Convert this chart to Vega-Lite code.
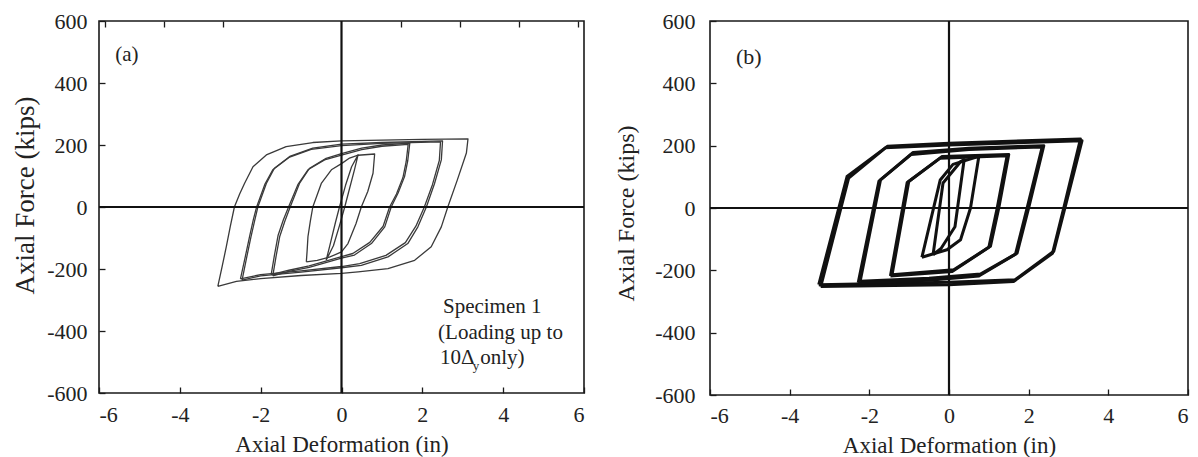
{
  "$schema": "https://vega.github.io/schema/vega-lite/v6.json",
  "autosize": {"type": "pad"},
  "padding": {"left": 10, "top": 9, "right": 5, "bottom": 0},
  "background": "white",
  "bounds": "flush",
  "spacing": 126,
  "config": {
    "font": "Liberation Serif",
    "view": {"stroke": "#1a1a1a", "strokeWidth": 1.6},
    "axis": {
      "grid": false,
      "domain": false,
      "tickColor": "#1a1a1a",
      "tickSize": -6,
      "tickWidth": 1.3,
      "labelFont": "Liberation Serif",
      "labelFontSize": 22,
      "labelColor": "#222222",
      "labelExpr": "toString(datum.value)",
      "titleFont": "Liberation Serif",
      "titleFontWeight": "normal",
      "titleColor": "#222222"
    }
  },
  "datasets": {
    "loopsA": [
      {"loop": "L5", "i": 0, "x": -3.06, "f": -256},
      {"loop": "L5", "i": 1, "x": -2.95, "f": -190},
      {"loop": "L5", "i": 2, "x": -2.85, "f": -128},
      {"loop": "L5", "i": 3, "x": -2.75, "f": -62},
      {"loop": "L5", "i": 4, "x": -2.65, "f": 0},
      {"loop": "L5", "i": 5, "x": -2.52, "f": 42},
      {"loop": "L5", "i": 6, "x": -2.40, "f": 76},
      {"loop": "L5", "i": 7, "x": -2.19, "f": 130},
      {"loop": "L5", "i": 8, "x": -1.86, "f": 168},
      {"loop": "L5", "i": 9, "x": -1.37, "f": 195},
      {"loop": "L5", "i": 10, "x": -0.71, "f": 208},
      {"loop": "L5", "i": 11, "x": 0, "f": 213},
      {"loop": "L5", "i": 12, "x": 1.0, "f": 216},
      {"loop": "L5", "i": 13, "x": 2.0, "f": 218},
      {"loop": "L5", "i": 14, "x": 3.13, "f": 220},
      {"loop": "L5", "i": 15, "x": 3.09, "f": 174},
      {"loop": "L5", "i": 16, "x": 2.86, "f": 85},
      {"loop": "L5", "i": 17, "x": 2.63, "f": 0},
      {"loop": "L5", "i": 18, "x": 2.47, "f": -64},
      {"loop": "L5", "i": 19, "x": 2.22, "f": -128},
      {"loop": "L5", "i": 20, "x": 1.81, "f": -172},
      {"loop": "L5", "i": 21, "x": 1.15, "f": -199},
      {"loop": "L5", "i": 22, "x": 0.41, "f": -209},
      {"loop": "L5", "i": 23, "x": 0, "f": -214},
      {"loop": "L5", "i": 24, "x": -1.0, "f": -221},
      {"loop": "L5", "i": 25, "x": -2.0, "f": -231},
      {"loop": "L5", "i": 26, "x": -2.6, "f": -240},
      {"loop": "L5", "i": 27, "x": -3.06, "f": -256},

      {"loop": "L4", "i": 0, "x": -2.46, "f": -236},
      {"loop": "L4", "i": 1, "x": -2.35, "f": -165},
      {"loop": "L4", "i": 2, "x": -2.24, "f": -96},
      {"loop": "L4", "i": 3, "x": -2.15, "f": -45},
      {"loop": "L4", "i": 4, "x": -2.07, "f": 0},
      {"loop": "L4", "i": 5, "x": -1.86, "f": 76},
      {"loop": "L4", "i": 6, "x": -1.66, "f": 125},
      {"loop": "L4", "i": 7, "x": -1.28, "f": 163},
      {"loop": "L4", "i": 8, "x": -0.71, "f": 190},
      {"loop": "L4", "i": 9, "x": 0, "f": 203},
      {"loop": "L4", "i": 10, "x": 1.0, "f": 208},
      {"loop": "L4", "i": 11, "x": 2.5, "f": 213},
      {"loop": "L4", "i": 12, "x": 2.47, "f": 152},
      {"loop": "L4", "i": 13, "x": 2.30, "f": 75},
      {"loop": "L4", "i": 14, "x": 2.10, "f": 0},
      {"loop": "L4", "i": 15, "x": 1.89, "f": -64},
      {"loop": "L4", "i": 16, "x": 1.64, "f": -118},
      {"loop": "L4", "i": 17, "x": 1.15, "f": -161},
      {"loop": "L4", "i": 18, "x": 0.49, "f": -188},
      {"loop": "L4", "i": 19, "x": 0, "f": -196},
      {"loop": "L4", "i": 20, "x": -1.0, "f": -210},
      {"loop": "L4", "i": 21, "x": -2.0, "f": -222},
      {"loop": "L4", "i": 22, "x": -2.46, "f": -236},

      {"loop": "L4b", "i": 0, "x": -2.50, "f": -232},
      {"loop": "L4b", "i": 1, "x": -2.38, "f": -160},
      {"loop": "L4b", "i": 2, "x": -2.27, "f": -92},
      {"loop": "L4b", "i": 3, "x": -2.18, "f": -40},
      {"loop": "L4b", "i": 4, "x": -2.10, "f": 0},
      {"loop": "L4b", "i": 5, "x": -1.90, "f": 72},
      {"loop": "L4b", "i": 6, "x": -1.70, "f": 120},
      {"loop": "L4b", "i": 7, "x": -1.30, "f": 160},
      {"loop": "L4b", "i": 8, "x": -0.75, "f": 186},
      {"loop": "L4b", "i": 9, "x": 0, "f": 198},
      {"loop": "L4b", "i": 10, "x": 1.0, "f": 205},
      {"loop": "L4b", "i": 11, "x": 2.45, "f": 210},
      {"loop": "L4b", "i": 12, "x": 2.42, "f": 150},
      {"loop": "L4b", "i": 13, "x": 2.25, "f": 72},
      {"loop": "L4b", "i": 14, "x": 2.05, "f": 0},
      {"loop": "L4b", "i": 15, "x": 1.84, "f": -62},
      {"loop": "L4b", "i": 16, "x": 1.58, "f": -115},
      {"loop": "L4b", "i": 17, "x": 1.10, "f": -156},
      {"loop": "L4b", "i": 18, "x": 0.45, "f": -183},
      {"loop": "L4b", "i": 19, "x": 0, "f": -192},
      {"loop": "L4b", "i": 20, "x": -1.0, "f": -206},
      {"loop": "L4b", "i": 21, "x": -2.0, "f": -218},
      {"loop": "L4b", "i": 22, "x": -2.50, "f": -232},

      {"loop": "L3", "i": 0, "x": -1.70, "f": -222},
      {"loop": "L3", "i": 1, "x": -1.62, "f": -160},
      {"loop": "L3", "i": 2, "x": -1.53, "f": -96},
      {"loop": "L3", "i": 3, "x": -1.40, "f": -45},
      {"loop": "L3", "i": 4, "x": -1.27, "f": 0},
      {"loop": "L3", "i": 5, "x": -1.04, "f": 76},
      {"loop": "L3", "i": 6, "x": -0.79, "f": 125},
      {"loop": "L3", "i": 7, "x": -0.38, "f": 157},
      {"loop": "L3", "i": 8, "x": 0, "f": 172},
      {"loop": "L3", "i": 9, "x": 0.5, "f": 190},
      {"loop": "L3", "i": 10, "x": 1.0, "f": 200},
      {"loop": "L3", "i": 11, "x": 1.69, "f": 206},
      {"loop": "L3", "i": 12, "x": 1.64, "f": 150},
      {"loop": "L3", "i": 13, "x": 1.56, "f": 98},
      {"loop": "L3", "i": 14, "x": 1.40, "f": 45},
      {"loop": "L3", "i": 15, "x": 1.23, "f": 0},
      {"loop": "L3", "i": 16, "x": 1.07, "f": -64},
      {"loop": "L3", "i": 17, "x": 0.74, "f": -118},
      {"loop": "L3", "i": 18, "x": 0.32, "f": -155},
      {"loop": "L3", "i": 19, "x": 0, "f": -165},
      {"loop": "L3", "i": 20, "x": -0.8, "f": -195},
      {"loop": "L3", "i": 21, "x": -1.3, "f": -208},
      {"loop": "L3", "i": 22, "x": -1.70, "f": -222},

      {"loop": "L3b", "i": 0, "x": -1.74, "f": -218},
      {"loop": "L3b", "i": 1, "x": -1.66, "f": -156},
      {"loop": "L3b", "i": 2, "x": -1.57, "f": -92},
      {"loop": "L3b", "i": 3, "x": -1.44, "f": -42},
      {"loop": "L3b", "i": 4, "x": -1.31, "f": 0},
      {"loop": "L3b", "i": 5, "x": -1.08, "f": 72},
      {"loop": "L3b", "i": 6, "x": -0.83, "f": 120},
      {"loop": "L3b", "i": 7, "x": -0.42, "f": 152},
      {"loop": "L3b", "i": 8, "x": 0, "f": 167},
      {"loop": "L3b", "i": 9, "x": 0.5, "f": 185},
      {"loop": "L3b", "i": 10, "x": 1.0, "f": 196},
      {"loop": "L3b", "i": 11, "x": 1.65, "f": 202},
      {"loop": "L3b", "i": 12, "x": 1.60, "f": 146},
      {"loop": "L3b", "i": 13, "x": 1.52, "f": 95},
      {"loop": "L3b", "i": 14, "x": 1.36, "f": 42},
      {"loop": "L3b", "i": 15, "x": 1.19, "f": 0},
      {"loop": "L3b", "i": 16, "x": 1.03, "f": -62},
      {"loop": "L3b", "i": 17, "x": 0.70, "f": -114},
      {"loop": "L3b", "i": 18, "x": 0.28, "f": -150},
      {"loop": "L3b", "i": 19, "x": 0, "f": -160},
      {"loop": "L3b", "i": 20, "x": -0.8, "f": -190},
      {"loop": "L3b", "i": 21, "x": -1.3, "f": -204},
      {"loop": "L3b", "i": 22, "x": -1.74, "f": -218},

      {"loop": "L2", "i": 0, "x": -0.87, "f": -177},
      {"loop": "L2", "i": 1, "x": -0.85, "f": -140},
      {"loop": "L2", "i": 2, "x": -0.83, "f": -96},
      {"loop": "L2", "i": 3, "x": -0.77, "f": -45},
      {"loop": "L2", "i": 4, "x": -0.71, "f": 0},
      {"loop": "L2", "i": 5, "x": -0.50, "f": 76},
      {"loop": "L2", "i": 6, "x": -0.25, "f": 120},
      {"loop": "L2", "i": 7, "x": 0, "f": 140},
      {"loop": "L2", "i": 8, "x": 0.2, "f": 158},
      {"loop": "L2", "i": 9, "x": 0.41, "f": 167},
      {"loop": "L2", "i": 10, "x": 0.82, "f": 171},
      {"loop": "L2", "i": 11, "x": 0.78, "f": 109},
      {"loop": "L2", "i": 12, "x": 0.65, "f": 50},
      {"loop": "L2", "i": 13, "x": 0.49, "f": 0},
      {"loop": "L2", "i": 14, "x": 0.36, "f": -53},
      {"loop": "L2", "i": 15, "x": 0.16, "f": -118},
      {"loop": "L2", "i": 16, "x": 0, "f": -145},
      {"loop": "L2", "i": 17, "x": -0.3, "f": -162},
      {"loop": "L2", "i": 18, "x": -0.6, "f": -172},
      {"loop": "L2", "i": 19, "x": -0.87, "f": -177},

      {"loop": "L1", "i": 0, "x": -0.38, "f": -172},
      {"loop": "L1", "i": 1, "x": -0.30, "f": -130},
      {"loop": "L1", "i": 2, "x": -0.15, "f": -50},
      {"loop": "L1", "i": 3, "x": -0.05, "f": 0},
      {"loop": "L1", "i": 4, "x": 0.1, "f": 70},
      {"loop": "L1", "i": 5, "x": 0.25, "f": 130},
      {"loop": "L1", "i": 6, "x": 0.41, "f": 168},
      {"loop": "L1", "i": 7, "x": 0.32, "f": 120},
      {"loop": "L1", "i": 8, "x": 0.18, "f": 50},
      {"loop": "L1", "i": 9, "x": 0.08, "f": 0},
      {"loop": "L1", "i": 10, "x": -0.05, "f": -60},
      {"loop": "L1", "i": 11, "x": -0.2, "f": -125},
      {"loop": "L1", "i": 12, "x": -0.38, "f": -172}
    ],
    "loopsB": [
      {"loop": "R5", "i": 0, "x": -3.27, "f": -246},
      {"loop": "R5", "i": 1, "x": -2.56, "f": 101},
      {"loop": "R5", "i": 2, "x": -1.60, "f": 193},
      {"loop": "R5", "i": 3, "x": 0, "f": 202},
      {"loop": "R5", "i": 4, "x": 3.34, "f": 216},
      {"loop": "R5", "i": 5, "x": 2.92, "f": 5},
      {"loop": "R5", "i": 6, "x": 2.63, "f": -139},
      {"loop": "R5", "i": 7, "x": 1.66, "f": -230},
      {"loop": "R5", "i": 8, "x": 0, "f": -238},
      {"loop": "R5", "i": 9, "x": -3.27, "f": -246},

      {"loop": "R5b", "i": 0, "x": -3.22, "f": -252},
      {"loop": "R5b", "i": 1, "x": -2.52, "f": 96},
      {"loop": "R5b", "i": 2, "x": -1.55, "f": 198},
      {"loop": "R5b", "i": 3, "x": 0, "f": 208},
      {"loop": "R5b", "i": 4, "x": 3.30, "f": 221},
      {"loop": "R5b", "i": 5, "x": 2.88, "f": 0},
      {"loop": "R5b", "i": 6, "x": 2.60, "f": -145},
      {"loop": "R5b", "i": 7, "x": 1.62, "f": -236},
      {"loop": "R5b", "i": 8, "x": 0, "f": -246},
      {"loop": "R5b", "i": 9, "x": -3.22, "f": -252},

      {"loop": "R4", "i": 0, "x": -2.23, "f": -235},
      {"loop": "R4", "i": 1, "x": -1.72, "f": 90},
      {"loop": "R4", "i": 2, "x": -0.9, "f": 178},
      {"loop": "R4", "i": 3, "x": 0.5, "f": 192},
      {"loop": "R4", "i": 4, "x": 2.38, "f": 200},
      {"loop": "R4", "i": 5, "x": 2.0, "f": 0},
      {"loop": "R4", "i": 6, "x": 1.71, "f": -145},
      {"loop": "R4", "i": 7, "x": 0.79, "f": -212},
      {"loop": "R4", "i": 8, "x": -0.5, "f": -225},
      {"loop": "R4", "i": 9, "x": -2.23, "f": -235},

      {"loop": "R4b", "i": 0, "x": -2.28, "f": -240},
      {"loop": "R4b", "i": 1, "x": -1.76, "f": 86},
      {"loop": "R4b", "i": 2, "x": -0.95, "f": 172},
      {"loop": "R4b", "i": 3, "x": 0.5, "f": 188},
      {"loop": "R4b", "i": 4, "x": 2.34, "f": 196},
      {"loop": "R4b", "i": 5, "x": 1.96, "f": 0},
      {"loop": "R4b", "i": 6, "x": 1.67, "f": -148},
      {"loop": "R4b", "i": 7, "x": 0.75, "f": -218},
      {"loop": "R4b", "i": 8, "x": -0.5, "f": -232},
      {"loop": "R4b", "i": 9, "x": -2.28, "f": -240},

      {"loop": "R3", "i": 0, "x": -1.43, "f": -214},
      {"loop": "R3", "i": 1, "x": -1.01, "f": 85},
      {"loop": "R3", "i": 2, "x": -0.18, "f": 165},
      {"loop": "R3", "i": 3, "x": 1.50, "f": 172},
      {"loop": "R3", "i": 4, "x": 1.25, "f": 0},
      {"loop": "R3", "i": 5, "x": 1.04, "f": -123},
      {"loop": "R3", "i": 6, "x": 0.12, "f": -198},
      {"loop": "R3", "i": 7, "x": -1.43, "f": -214},

      {"loop": "R3b", "i": 0, "x": -1.47, "f": -218},
      {"loop": "R3b", "i": 1, "x": -1.05, "f": 82},
      {"loop": "R3b", "i": 2, "x": -0.22, "f": 160},
      {"loop": "R3b", "i": 3, "x": 1.46, "f": 168},
      {"loop": "R3b", "i": 4, "x": 1.21, "f": 0},
      {"loop": "R3b", "i": 5, "x": 1.0, "f": -126},
      {"loop": "R3b", "i": 6, "x": 0.08, "f": -204},
      {"loop": "R3b", "i": 7, "x": -1.47, "f": -218},

      {"loop": "R2", "i": 0, "x": -0.68, "f": -158},
      {"loop": "R2", "i": 1, "x": -0.22, "f": 90},
      {"loop": "R2", "i": 2, "x": 0.1, "f": 140},
      {"loop": "R2", "i": 3, "x": 0.75, "f": 166},
      {"loop": "R2", "i": 4, "x": 0.54, "f": 0},
      {"loop": "R2", "i": 5, "x": 0.29, "f": -102},
      {"loop": "R2", "i": 6, "x": -0.05, "f": -134},
      {"loop": "R2", "i": 7, "x": -0.68, "f": -158},

      {"loop": "R1", "i": 0, "x": -0.40, "f": -150},
      {"loop": "R1", "i": 1, "x": -0.15, "f": 80},
      {"loop": "R1", "i": 2, "x": 0.30, "f": 150},
      {"loop": "R1", "i": 3, "x": 0.38, "f": 155},
      {"loop": "R1", "i": 4, "x": 0.15, "f": -60},
      {"loop": "R1", "i": 5, "x": -0.2, "f": -130},
      {"loop": "R1", "i": 6, "x": -0.40, "f": -150}
    ],
    "zero": [{"v": 0}],
    "notesA": [
      {"t": "(a)", "x": -5.6, "f": 470},
      {"t": "Specimen 1", "x": 2.51, "f": -341},
      {"t": "(Loading up to", "x": 2.39, "f": -425},
      {"t": "10Δ", "x": 2.44, "f": -506},
      {"t": "only)", "x": 3.43, "f": -506}
    ],
    "subA": [{"t": "y", "x": 3.25, "f": -527}],
    "notesB": [{"t": "(b)", "x": -5.35, "f": 485}]
  },
  "hconcat": [
    {
      "width": 485,
      "height": 372,
      "resolve": {"axis": {"x": "independent", "y": "independent"}},
      "layer": [
        {
          "data": {"name": "loopsA"},
          "mark": {"type": "line", "stroke": "#3a3a3a", "strokeWidth": 1.3, "strokeJoin": "round"},
          "encoding": {
            "x": {"field": "x", "type": "quantitative", "scale": {"domain": [-6, 6], "nice": false, "zero": false},
                  "axis": {"orient": "bottom", "values": [-6, -4, -2, 0, 2, 4, 6], "labelPadding": 17, "title": "Axial Deformation (in)", "titleFontSize": 23, "titleY": 58, "titleBaseline": "alphabetic"}},
            "y": {"field": "f", "type": "quantitative", "scale": {"domain": [-600, 600], "nice": false, "zero": false},
                  "axis": {"orient": "left", "values": [-600, -400, -200, 0, 200, 400, 600], "labelPadding": 18, "title": "Axial Force (kips)", "titleFontSize": 27, "titleX": -74, "titleY": 174, "titleBaseline": "middle"}},
            "detail": {"field": "loop"},
            "order": {"field": "i", "type": "quantitative"}
          }
        },
        {
          "data": {"name": "zero"},
          "mark": {"type": "rule", "stroke": "#111111", "strokeWidth": 2.2},
          "encoding": {
            "x": {"field": "v", "type": "quantitative",
                  "axis": {"orient": "top", "values": [-5.84, -4.38, -2.92, 1.46, 2.92, 4.38, 5.84], "labels": false, "title": null}}
          }
        },
        {
          "data": {"name": "zero"},
          "mark": {"type": "rule", "stroke": "#111111", "strokeWidth": 2.2},
          "encoding": {
            "y": {"field": "v", "type": "quantitative", "axis": null}
          }
        },
        {
          "data": {"name": "notesA"},
          "mark": {"type": "text", "align": "left", "baseline": "alphabetic", "fontSize": 21, "font": "Liberation Serif", "fill": "#222222"},
          "encoding": {
            "x": {"field": "x", "type": "quantitative", "axis": null},
            "y": {"field": "f", "type": "quantitative", "axis": null},
            "text": {"field": "t"}
          }
        },
        {
          "data": {"name": "subA"},
          "mark": {"type": "text", "align": "left", "baseline": "alphabetic", "fontSize": 13, "font": "Liberation Serif", "fill": "#222222"},
          "encoding": {
            "x": {"field": "x", "type": "quantitative", "axis": null},
            "y": {"field": "f", "type": "quantitative", "axis": null},
            "text": {"field": "t"}
          }
        }
      ]
    },
    {
      "width": 478,
      "height": 374,
      "resolve": {"axis": {"x": "independent", "y": "independent"}},
      "layer": [
        {
          "data": {"name": "loopsB"},
          "mark": {"type": "line", "stroke": "#111111", "strokeWidth": 3, "strokeJoin": "round"},
          "encoding": {
            "x": {"field": "x", "type": "quantitative", "scale": {"domain": [-6, 6], "nice": false, "zero": false},
                  "axis": {"orient": "bottom", "values": [-6, -4, -2, 0, 2, 4, 6], "labelPadding": 16, "title": "Axial Deformation (in)", "titleFontSize": 23, "titleY": 57, "titleBaseline": "alphabetic"}},
            "y": {"field": "f", "type": "quantitative", "scale": {"domain": [-600, 600], "nice": false, "zero": false},
                  "axis": {"orient": "left", "values": [-600, -400, -200, 0, 200, 400, 600], "labelPadding": 21, "title": "Axial Force (kips)", "titleFontSize": 24, "titleX": -84, "titleY": 192, "titleBaseline": "middle"}},
            "detail": {"field": "loop"},
            "order": {"field": "i", "type": "quantitative"}
          }
        },
        {
          "data": {"name": "zero"},
          "mark": {"type": "rule", "stroke": "#111111", "strokeWidth": 2.2},
          "encoding": {
            "x": {"field": "v", "type": "quantitative", "axis": null}
          }
        },
        {
          "data": {"name": "zero"},
          "mark": {"type": "rule", "stroke": "#111111", "strokeWidth": 2.2},
          "encoding": {
            "y": {"field": "v", "type": "quantitative", "axis": null}
          }
        },
        {
          "data": {"name": "notesB"},
          "mark": {"type": "text", "align": "left", "baseline": "middle", "fontSize": 22, "font": "Liberation Serif", "fill": "#222222"},
          "encoding": {
            "x": {"field": "x", "type": "quantitative", "axis": null},
            "y": {"field": "f", "type": "quantitative", "axis": null},
            "text": {"field": "t"}
          }
        }
      ]
    }
  ]
}
